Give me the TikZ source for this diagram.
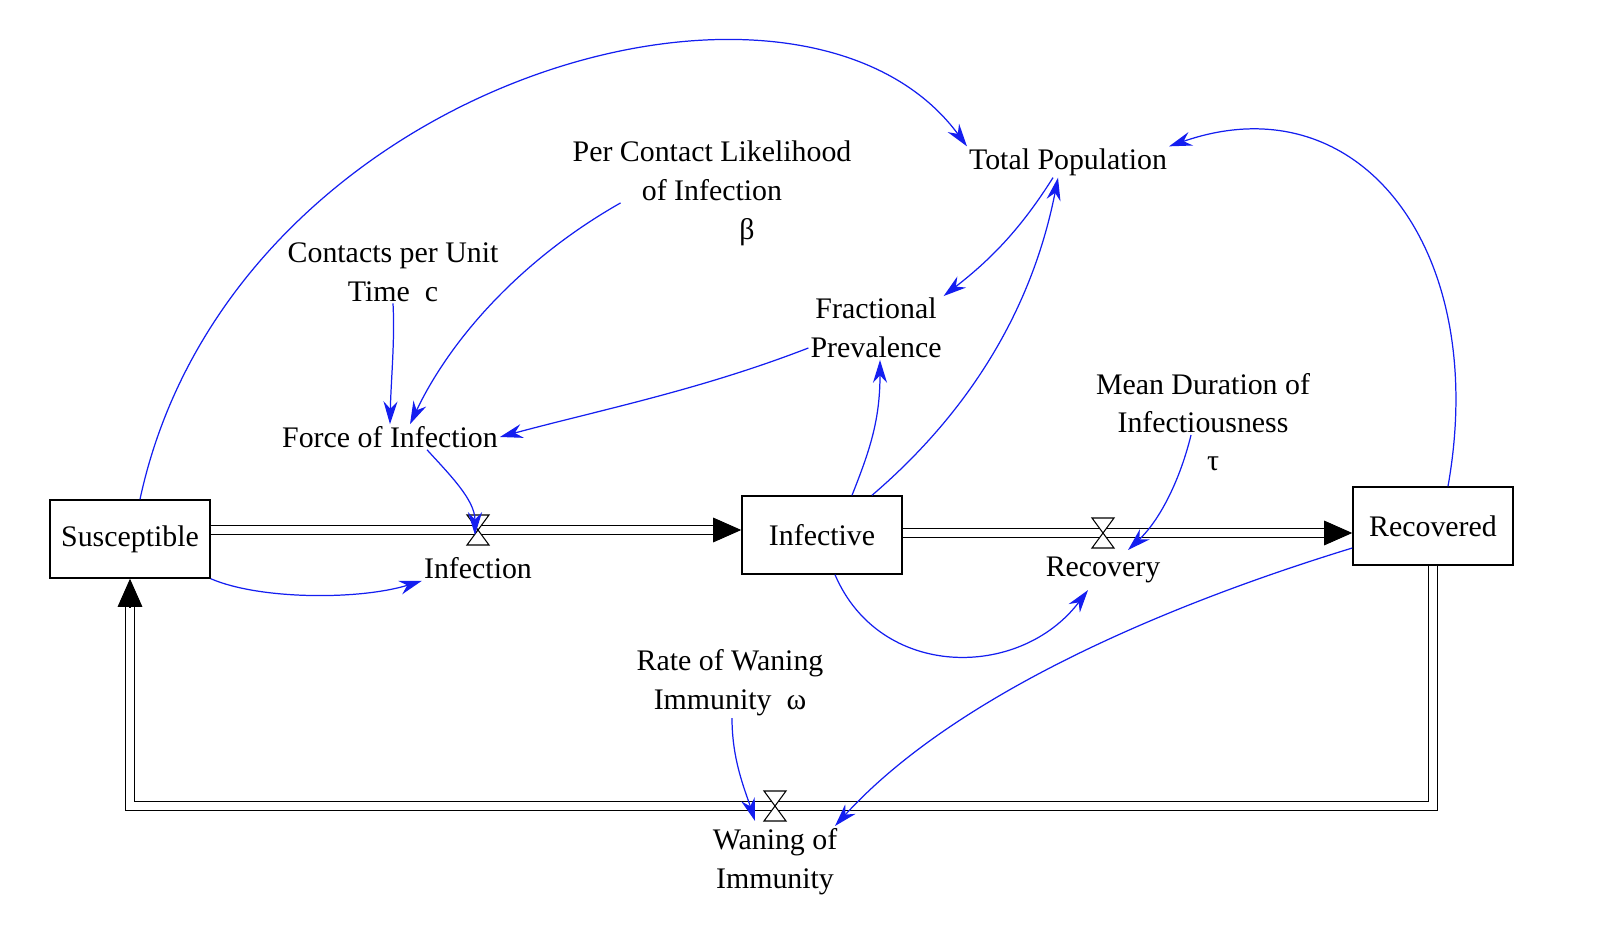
\documentclass[tikz,border=0pt]{standalone}
\usepackage{fontspec}
\setmainfont{Liberation Serif}
\usetikzlibrary{arrows.meta,positioning,calc}
\definecolor{linkblue}{RGB}{20,30,240}

\begin{document}
\begin{tikzpicture}[x=0.02cm, y=-0.02cm,
    font=\fontsize{17}{22}\selectfont,
    stock/.style={draw, thick, minimum width=160*0.02cm, minimum height=78*0.02cm, inner sep=0pt},
    label/.style={align=center, inner sep=1pt},
    pipe/.style={draw, double, double distance=4pt, line width=0.6pt},
    flowhead/.style={-{Triangle[length=16pt,width=14pt]}, line width=0.6pt},
    link/.style={draw=linkblue, line width=0.7pt, -{Stealth[length=13pt,width=8pt]}, linkblue}]
    \useasboundingbox (0,0) rectangle (1600,952);

    % Stocks
    \node [stock] (susc) at (130,539) {Susceptible};
    \node [stock] (inf) at (822,535) {Infective};
    \node [stock] (rec) at (1433,526) {Recovered};

    % Valves
    \coordinate (vinf) at (478,530);
    \coordinate (vrec) at (1103,533);
    \coordinate (vwan) at (775,806);

    % Labels
    \node [label] (infection) at (478,568) {Infection};
    \node [label] (recovery) at (1103,570) {Recovery};
    \node [label] (waning) at (775,862) {Waning of\\Immunity};
    \node [label] (total) at (1068,162) {Total Population};
    \node [label] (beta) at (712,171) {Per Contact Likelihood\\of Infection};
    \node [label] at (747,232) {β};
    \node [label] (contacts) at (393,272) {Contacts per Unit\\Time\ \ c};
    \node [label] (frac) at (876,328) {Fractional\\Prevalence};
    \node [label] (force) at (390,437) {Force of Infection};
    \node [label] (tau) at (1203,403) {Mean Duration of\\Infectiousness};
    \node [label] at (1213,464) {τ};
    \node [label] (omega) at (730,683) {Rate of Waning\\Immunity\ \ ω};

    % Flows
    \draw [pipe] (susc.east |- vinf) -- ($(inf.west |- vinf)+(-22,0)$);
    \draw [flowhead] ($(inf.west |- vinf)+(-28.5,0)$) -- (inf.west |- vinf);
    \draw [pipe] (inf.east |- vrec) -- ($(rec.west |- vrec)+(-22,0)$);
    \draw [flowhead] ($(rec.west |- vrec)+(-28.5,0)$) -- (rec.west |- vrec);
    \draw [pipe] (rec.south) -- (rec.south |- vwan) -- (susc.south |- vwan) -- ($(susc.south)+(0,22)$);
    \draw [flowhead] ($(susc.south)+(0,28.5)$) -- (susc.south);

    % Valve symbols
    \foreach \v in {vinf,vrec,vwan}
        \draw [fill=white, line width=0.6pt] ($(\v)+(-11,-15)$) -- ++(22,0) -- ++(-22,30) -- ++(22,0) -- cycle;

    % Links
    \draw [link] (susc.north) ++(10,0) .. controls (230,80) and (800,-80) .. (total.north west);
    \draw [link] (rec.north) ++(15,0) .. controls (1490,250) and (1360,80) .. (total.north east);
    \draw [link] (total.south) ++(-15,0) .. controls (1020,230) and (990,260) .. (frac.north east);
    \draw [link] (inf.north) ++(50,0) .. controls (960,420) and (1030,320) .. ($(total.south)+(-10,0)$);
    \draw [link] (inf.north) ++(30,0) .. controls (870,450) and (880,420) .. ($(frac.south)+(4,0)$);
    \draw [link] (frac.west) ++(0,20) .. controls (700,390) and (600,410) .. (force.east);
    \draw [link] (contacts.south) .. controls (395,340) and (391,380) .. (force.north);
    \draw [link] (beta.south west) ++(50,0) .. controls (520,260) and (450,340) .. ($(force.north)+(20,0)$);
    \draw [link] (force.south) ++(37,0) .. controls (450,475) and (475,500) .. ($(vinf)+(-3,5)$);
    \draw [link] (susc.south east) .. controls (260,600) and (360,600) .. (infection.south west);
    \draw [link] (tau.south) ++(-12,0) .. controls (1180,480) and (1160,520) .. ($(vrec)+(25,17)$);
    \draw [link] (inf.south) ++(13,0) .. controls (880,680) and (1020,680) .. ($(recovery.south)+(-15,5)$);
    \draw [link] (rec.west) ++(0,22) .. controls (1150,610) and (950,700) .. ($(vwan)+(60,20)$);
    \draw [link] (omega.south) ++(2,0) .. controls (732,760) and (745,790) .. ($(vwan)+(-20,15)$);
\end{tikzpicture}
\end{document}
